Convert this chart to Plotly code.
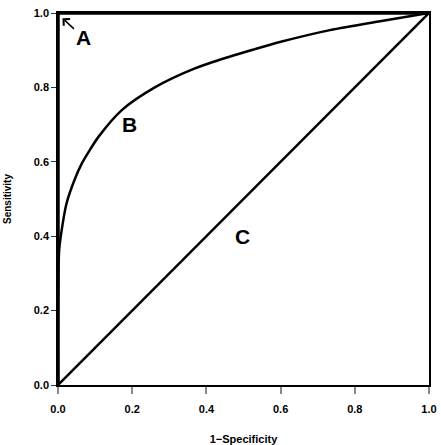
import plotly.graph_objects as go

# Curve A: perfect classifier
a_fpr = [0.0, 0.0, 1.0]
a_sens = [0.0, 1.0, 1.0]

# Curve B: typical ROC curve
b_fpr = [0.0, 0.0, 0.003, 0.01, 0.023, 0.046, 0.064, 0.086, 0.109, 0.172, 0.261,
         0.369, 0.464, 0.531, 0.598, 0.733, 0.868, 1.0]
b_sens = [0.0, 0.2, 0.36, 0.417, 0.488, 0.555, 0.595, 0.632, 0.667, 0.739, 0.800,
          0.851, 0.883, 0.903, 0.922, 0.954, 0.978, 1.0]

# Curve C: chance line
c_fpr = [0.0, 1.0]
c_sens = [0.0, 1.0]

tick_vals = [0.0, 0.2, 0.4, 0.6, 0.8, 1.0]
tick_text = ["0.0", "0.2", "0.4", "0.6", "0.8", "1.0"]

fig = go.Figure()
fig.add_trace(go.Scatter(x=c_fpr, y=c_sens, mode="lines",
                         line=dict(color="black", width=2.5), showlegend=False))
fig.add_trace(go.Scatter(x=b_fpr, y=b_sens, mode="lines",
                         line=dict(color="black", width=2.5, shape="spline", smoothing=0.8),
                         showlegend=False))
fig.add_trace(go.Scatter(x=a_fpr, y=a_sens, mode="lines",
                         line=dict(color="black", width=3.5), showlegend=False, cliponaxis=False))

font_b = dict(family="Liberation Sans, Arial, sans-serif", size=11, color="black")

fig.update_layout(
    width=441, height=445,
    margin=dict(l=58, r=12, t=13, b=60),
    plot_bgcolor="white", paper_bgcolor="white",
    font=font_b,
    xaxis=dict(range=[0, 1], tickvals=tick_vals, ticktext=["<b>%s</b>" % t for t in tick_text],
               showgrid=False, zeroline=False, showline=True, linecolor="black", linewidth=1.5,
               mirror=True, ticks="outside", ticklen=7, tickcolor="#888888", tickwidth=1.5,
               ticklabelstandoff=6, automargin=False,
               tickfont=dict(size=11), title=dict(text="<b>1\u2212Specificity</b>", standoff=22,
                                                   font=dict(size=11))),
    yaxis=dict(range=[0, 1], tickvals=tick_vals, ticktext=["<b>%s</b>" % t for t in tick_text],
               showgrid=False, zeroline=False, showline=True, linecolor="black", linewidth=1.5,
               mirror=True, ticks="outside", ticklen=5, tickcolor="#333333", tickwidth=1.2,
               automargin=False,
               tickfont=dict(size=11), title=dict(text="<b>Sensitivity</b>", standoff=20,
                                                   font=dict(size=10))),
)

lab_font = dict(family="Liberation Sans, Arial, sans-serif", size=21, color="black")
fig.add_annotation(x=0.068, y=0.935, text="<b>A</b>", showarrow=False, font=lab_font)
fig.add_annotation(x=0.194, y=0.70, text="<b>B</b>", showarrow=False, font=lab_font)
fig.add_annotation(x=0.496, y=0.398, text="<b>C</b>", showarrow=False, font=lab_font)
fig.add_annotation(x=0.012, y=0.986, ax=13, ay=12, text="", showarrow=True,
                   arrowhead=4, arrowsize=1.2, arrowwidth=1.5, arrowcolor="black")

fig.write_html("out.html")
